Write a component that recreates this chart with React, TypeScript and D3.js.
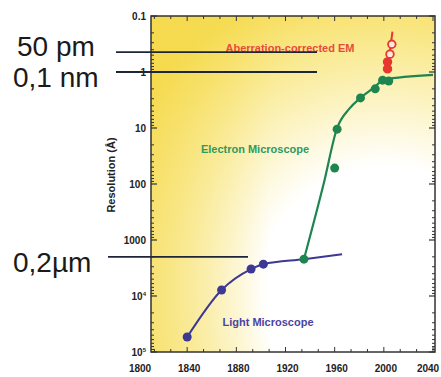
import React from 'react'
import * as d3 from 'd3'

// light microscope: measured points and the fitted curve through them
const lightYears = [1840, 1868, 1892, 1902]
const lightRes = [54000, 7800, 3300, 2700]
const lightCurveYears = [1840, 1868, 1892, 1902, 1935, 1966]
const lightCurveRes = [54000, 7800, 3300, 2700, 2200, 1800]

// electron microscope
const emYears = [1935, 1960, 1962, 1981, 1993, 1999, 2004]
const emRes = [2200, 52, 10.5, 2.9, 2.0, 1.4, 1.45]
const emCurveYears = [1935, 1951, 1962, 1972, 1981, 1992, 2000, 2040]
const emCurveRes = [2200, 100, 10, 4.5, 2.9, 1.9, 1.38, 1.13]

// aberration-corrected EM
const acYears = [2006.5, 2005, 2003, 2003]
const acRes = [0.32, 0.48, 0.66, 0.88]
const acOpen = [true, true, false, false]
const acLineYears = [2007, 2003]
const acLineRes = [0.19, 0.9]

const xTicks = [1800, 1840, 1880, 1920, 1960, 2000, 2040]
const yTicks = [0.1, 1, 10, 100, 1000, 10000, 100000]
const yTickLabels = ['0.1', '1', '10', '100', '1000', '10^4', '10^5']

// scale-bar annotations on the left
const markLabels = ['50 pm', '0,1 nm', '0,2µm']
const markValues = [0.44, 1, 2000]
const markLabelValues = [0.34, 1.25, 2500]

const W = 441
const H = 377
const plot = { left: 151, right: 435, top: 16, bottom: 352 }

export default function App() {
  const x = d3.scaleLinear().domain([1800, 2040]).range([138, 433])
  const y = d3.scaleLog().domain([0.1, 100000]).range([plot.top, plot.bottom])

  const line = d3.line<[number, number]>()
    .x(d => x(d[0]))
    .y(d => y(d[1]))
    .curve(d3.curveMonotoneX)

  const lightPath = line(lightCurveYears.map((v, i) => [v, lightCurveRes[i]]))
  const emPath = line(emCurveYears.map((v, i) => [v, emCurveRes[i]]))

  const purple = '#3c3894'
  const green = '#1f8550'
  const red = '#e8382e'
  const axis = '#333'
  const tickFont = { fontFamily: 'Liberation Sans, Arial, sans-serif', fontWeight: 700, fontSize: 10 }

  // minor ticks
  const xMinor = d3.range(1800, 2041, 40 / 3).filter(v => x(v) > plot.left + 1 && x(v) < plot.right - 1)
  const yMinor: number[] = []
  for (let e = -1; e < 5; e++) {
    for (let k = 2; k <= 9; k++) yMinor.push(k * Math.pow(10, e))
  }

  return (
    <svg width={W} height={H} style={{ position: 'absolute', left: 0, top: 0, background: '#fff' }}>
      <defs>
        <radialGradient id="bg" gradientUnits="userSpaceOnUse" cx={385} cy={290} r={310}>
          <stop offset="0" stopColor="#ffffff" />
          <stop offset="0.4" stopColor="#ffffff" />
          <stop offset="0.75" stopColor="#faec9c" />
          <stop offset="1" stopColor="#f6dc55" />
        </radialGradient>
        <linearGradient id="leftglow" gradientUnits="userSpaceOnUse" x1={plot.left} x2={270} y1={0} y2={0}>
          <stop offset="0" stopColor="#f4d846" stopOpacity={0.45} />
          <stop offset="1" stopColor="#f4d846" stopOpacity={0} />
        </linearGradient>
      </defs>

      <rect x={plot.left} y={plot.top} width={plot.right - plot.left} height={plot.bottom - plot.top} fill="url(#bg)" />
      <rect x={plot.left} y={plot.top} width={plot.right - plot.left} height={plot.bottom - plot.top} fill="url(#leftglow)" />

      {/* ticks on the four sides */}
      {xMinor.map((v, i) => {
        const major = xTicks.includes(Math.round(v))
        const len = major ? 5 : 3
        return (
          <g key={'xt' + i} stroke={axis} strokeWidth={1}>
            <line x1={x(v)} x2={x(v)} y1={plot.bottom} y2={plot.bottom - len} />
            <line x1={x(v)} x2={x(v)} y1={plot.top} y2={plot.top + len} />
          </g>
        )
      })}
      {yMinor.map((v, i) => (
        <g key={'ym' + i} stroke={axis} strokeWidth={1}>
          <line x1={plot.left} x2={plot.left + 3} y1={y(v)} y2={y(v)} />
          <line x1={plot.right} x2={plot.right - 3} y1={y(v)} y2={y(v)} />
        </g>
      ))}
      {yTicks.map((v, i) => (
        <g key={'yt' + i} stroke={axis} strokeWidth={1.2}>
          <line x1={plot.left} x2={plot.left + 6} y1={y(v)} y2={y(v)} />
          <line x1={plot.right} x2={plot.right - 6} y1={y(v)} y2={y(v)} />
        </g>
      ))}
      <rect x={plot.left} y={plot.top} width={plot.right - plot.left} height={plot.bottom - plot.top}
        fill="none" stroke={axis} strokeWidth={1.5} />

      {/* tick labels */}
      {xTicks.map((v, i) => (
        <text key={'xl' + v} x={Math.min(x(v) + 2, 428)} y={372} textAnchor="middle" fill="#222" style={tickFont}>{v}</text>
      ))}
      {yTicks.map((v, i) => {
        const lab = yTickLabels[i]
        const sup = lab.startsWith('10^')
        return (
          <text key={'yl' + i} x={146} y={y(v) + 4} textAnchor="end" fill="#222" style={tickFont}>
            {sup ? <>10<tspan fontSize={6} dy={-4}>{lab.slice(3)}</tspan></> : lab}
          </text>
        )
      })}
      <text transform={`translate(115,175) rotate(-90)`} textAnchor="middle" fill="#222"
        style={{ ...tickFont, fontSize: 11 }}>Resolution (Å)</text>

      {/* curves */}
      <path d={lightPath || ''} fill="none" stroke={purple} strokeWidth={2} />
      <path d={emPath || ''} fill="none" stroke={green} strokeWidth={2.2} />
      <line x1={x(acLineYears[0])} x2={x(acLineYears[1])} y1={y(acLineRes[0])} y2={y(acLineRes[1])}
        stroke={red} strokeWidth={2} />

      {lightYears.map((v, i) => (
        <circle key={'lp' + i} cx={x(v)} cy={y(lightRes[i])} r={4.5} fill={purple} />
      ))}
      {emYears.map((v, i) => (
        <circle key={'ep' + i} cx={x(v)} cy={y(emRes[i])} r={4.5} fill={green} />
      ))}
      {acYears.map((v, i) => (
        <circle key={'ap' + i} cx={x(v)} cy={y(acRes[i])} r={3.8}
          fill={acOpen[i] ? '#fde8e0' : red} stroke={red} strokeWidth={1.8} />
      ))}

      {/* series labels */}
      <text x={290} y={52} textAnchor="middle" fill="#e84a3c" style={{ ...tickFont, fontSize: 11 }}>Aberration-corrected EM</text>
      <text x={255} y={153} textAnchor="middle" fill="#2e9a60" style={{ ...tickFont, fontSize: 11 }}>Electron Microscope</text>
      <text x={268} y={326} textAnchor="middle" fill="#4a44a2" style={{ ...tickFont, fontSize: 11 }}>Light Microscope</text>

      {/* scale-bar annotations */}
      {markValues.map((v, i) => (
        <line key={'ml' + i} x1={i === 2 ? 108 : 116} x2={i === 2 ? 248 : 317} y1={y(v)} y2={y(v)}
          stroke="#1c2638" strokeWidth={1.8} />
      ))}
      {markLabels.map((t, i) => (
        <text key={'mt' + i} x={i === 0 ? 17 : 13} y={y(markLabelValues[i]) + 10} fill="#1a1a1a"
          style={{ fontFamily: 'Liberation Sans, Arial, sans-serif', fontSize: 28 }}>{t}</text>
      ))}
    </svg>
  )
}
